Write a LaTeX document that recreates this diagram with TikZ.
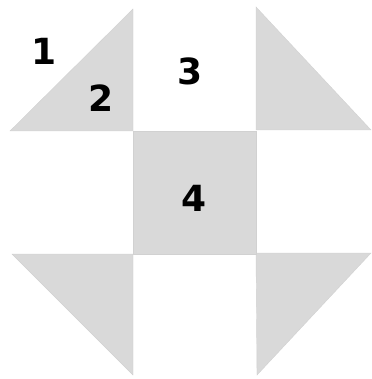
\documentclass[tikz,border=0pt]{standalone}
\usepackage{fontspec}
\newfontfamily\digitfont{DejaVu Sans}[BoldFont={DejaVu Sans Bold}]
\begin{document}
\begin{tikzpicture}[x=1pt,y=-1pt,
  patch/.style={fill=black!15, draw=black!18, line width=0.4pt},
  num/.style={font=\digitfont\bfseries\fontsize{36}{36}\selectfont, inner sep=0pt, text=black}]
\useasboundingbox (0,0) rectangle (371,379);
\fill[white] (0,0) rectangle (371,379);
% corner triangles
\path[patch] (10,131) -- (133,9) -- (133,131) -- cycle;
\path[patch] (256,7) -- (256,130) -- (371,130) -- cycle;
\path[patch] (12,254) -- (133,254) -- (133,375) -- cycle;
\path[patch] (256,253) -- (371,253) -- (257,375) -- cycle;
% center square
\path[patch] (133,131) rectangle (256,254);
% labels
\node[num] (n1) at (44,51) {1};
\node[num] (n2) at (101,98) {2};
\node[num] (n3) at (190,71) {3};
\node[num] (n4) at (194,198) {4};
\end{tikzpicture}
\end{document}
